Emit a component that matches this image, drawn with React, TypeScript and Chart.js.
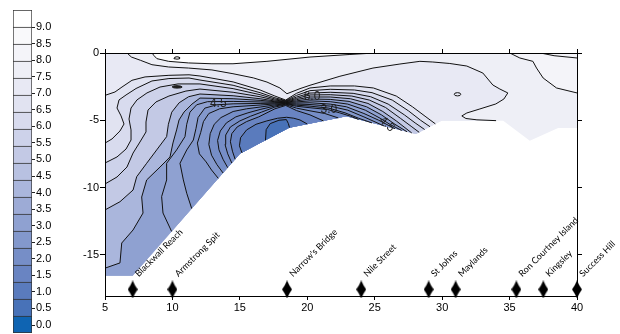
import React, { useEffect, useRef } from 'react';
import { Chart, registerables } from 'chart.js';

Chart.register(...registerables);

type Pt = [number, number];

// ---------------- data ----------------
const STATION_NAMES = ['Blackwall Reach', 'Armstrong Spit', "Narrow's Bridge", 'Nile Street', 'St Johns', 'Maylands', 'Ron Courtney Island', 'Kingsley', 'Success Hill'];
const STATION_KM = [7.05, 10.0, 18.5, 24.0, 29.0, 31.0, 35.5, 37.5, 40.0];
const STATION_DEPTH = -17.58;
const STATION_LABEL_DEPTH = -16.68;

const X_MIN = 5;
const X_MAX = 40;
const Y_MIN = -18.07;
const Y_MAX = 0;
const X_TICK_STEP = 5;
const Y_TICK_STEP = 5;

const COLORBAR_TICKS = [0, 0.5, 1, 1.5, 2, 2.5, 3, 3.5, 4, 4.5, 5, 5.5, 6, 6.5, 7, 7.5, 8, 8.5, 9];
const BAND_STEP = 0.5;
const BAND_TOP = 9.5;
const BAND_COLORS = [
  '#0f64b2', '#4872b8', '#5a7bbd', '#6984c2', '#768ec7', '#8398cc', '#8fa1d1', '#9dabd6', '#aab6dc', '#b8c1e1',
  '#c3c9e5', '#cdd2ea', '#d8dbee', '#e1e3f1', '#e8e9f4', '#eeeff6', '#f4f4f9', '#f9f9fb', '#ffffff',
];
// upper bound of the colour band that fills the whole section first
const BASE_BAND = 8.0;

// section outline (distance km, depth m)
const BOUNDARY: Pt[] = [
  [5, 0], [5, -16.56], [7.05, -16.56], [15.0, -7.5], [16.5, -6.7], [18.65, -5.55], [22.9, -4.71],
  [28.05, -6.03], [29.96, -5.03], [34.53, -5.03], [36.5, -6.52], [38.6, -5.58], [40, -5.58], [40, 0],
];

// contour lines
const C95_RIGHT: Pt[] = [[37.3, 0], [38.3, -0.2], [40, -0.37]];
const C90_TOP: Pt[] = [[8.5, 0], [8.61, -0.17], [8.85, -0.42], [9.72, -0.62], [11.2, -0.74], [12.93, -0.8], [14.49, -0.8], [17.01, -0.62], [20.2, -0.3], [23.16, -0.11], [25.0, 0]];
const C90_RIGHT: Pt[] = [[35.02, 0], [35.76, -0.37], [36.73, -0.62], [37.0, -1.12], [37.49, -1.86], [38.48, -2.6], [40, -2.97]];
const C85: Pt[] = [[6.63, 0], [6.96, -0.3], [7.62, -0.54], [8.48, -0.87], [9.72, -1.04], [11.2, -1.12], [12.93, -1.26], [14.49, -1.54], [16.0, -1.85], [17.01, -2.16], [17.97, -2.6], [18.49, -3.03], [19.46, -2.65], [20.2, -2.4], [22.42, -1.73], [24.87, -1.12], [26.87, -0.82], [28.35, -0.62], [29.31, -0.67], [30.57, -0.78], [31.83, -0.97], [33.02, -1.49], [33.76, -2.38], [34.28, -2.68], [34.87, -2.97], [34.58, -3.42], [33.98, -3.79], [32.8, -4.16], [31.83, -4.46], [31.46, -4.68], [31.76, -4.87], [32.58, -4.97], [34.0, -5.03]];
const C80: Pt[] = [[5, -3.15], [5.74, -2.9], [6.26, -2.53], [7.0, -2.03], [7.97, -1.78], [9.74, -1.66], [11.23, -1.62], [12.04, -1.71], [14.5, -2.15], [16.5, -2.75], [17.6, -3.2], [18.4, -3.5], [19.2, -3.0], [20.2, -2.6], [21.7, -2.45], [23.5, -2.45], [24.9, -2.6], [26.6, -3.2], [27.8, -4.0], [28.8, -4.75], [29.5, -5.27]];
const C75: Pt[] = [[5, -6.7], [5.52, -6.39], [6.11, -5.8], [6.41, -5.28], [6.19, -4.68], [5.89, -4.09], [6.04, -3.49], [6.56, -3.12], [7.3, -2.64], [8.48, -2.08], [9.74, -1.9], [11.23, -1.86], [12.04, -2.01], [14.5, -2.4], [16.5, -2.95], [17.6, -3.33], [18.4, -3.54], [19.2, -3.15], [20.2, -2.8], [21.7, -2.7], [23.5, -2.75], [24.8, -2.95], [26.3, -3.5], [27.5, -4.3], [28.4, -5.0], [29.1, -5.48]];
const C70: Pt[] = [[5, -8.18], [5.89, -7.73], [6.56, -7.14], [6.93, -6.47], [6.93, -5.72], [6.78, -4.91], [6.93, -4.09], [7.37, -3.49], [8.11, -2.97], [9.08, -2.53], [10.41, -2.3], [12.04, -2.3], [14.5, -2.65], [16.5, -3.1], [17.6, -3.42], [18.4, -3.57], [19.2, -3.28], [20.2, -2.98], [21.7, -2.92], [23.4, -3.0], [24.7, -3.25], [26.0, -3.8], [27.2, -4.6], [28.0, -5.2], [28.7, -5.69]];
const C65: Pt[] = [[5, -9.74], [5.89, -9.22], [6.63, -8.48], [7.08, -7.44], [7.59, -6.62], [8.04, -5.87], [8.04, -5.13], [8.19, -4.24], [8.78, -3.64], [9.74, -3.2], [11.0, -2.83], [12.04, -2.68], [14.5, -2.92], [16.5, -3.25], [17.6, -3.5], [18.4, -3.6], [19.2, -3.38], [20.2, -3.12], [21.7, -3.1], [23.3, -3.2], [24.6, -3.5], [25.8, -4.05], [26.9, -4.85], [27.7, -5.45], [28.3, -5.9]];
const C60: Pt[] = [[5, -11.67], [6.11, -11.06], [7.08, -10.19], [7.35, -9.2], [8.09, -8.2], [8.83, -7.21], [9.57, -6.22], [9.7, -5.3], [9.95, -4.4], [10.5, -3.7], [11.2, -3.25], [12.04, -3.05], [14.5, -3.18], [16.5, -3.4], [17.6, -3.57], [18.4, -3.63], [19.2, -3.47], [20.2, -3.27], [21.7, -3.27], [23.2, -3.4], [24.5, -3.75], [25.6, -4.35], [26.6, -5.05], [27.75, -5.95]];
const C55: Pt[] = [[5, -16.0], [6.11, -15.61], [6.24, -14.13], [7.08, -13.16], [7.82, -11.9], [7.72, -10.71], [8.09, -9.44], [9.08, -8.48], [9.82, -7.73], [10.04, -6.69], [10.31, -5.72], [10.49, -4.98], [10.86, -4.39], [11.45, -3.8], [12.04, -3.35], [14.5, -3.4], [16.5, -3.52], [17.6, -3.62], [18.4, -3.66], [19.2, -3.56], [20.2, -3.42], [21.7, -3.45], [23.1, -3.6], [24.4, -4.0], [25.5, -4.6], [26.5, -5.3], [27.4, -5.86]];
const C50: Pt[] = [[9.94, -13.27], [9.3, -11.9], [9.2, -10.68], [9.57, -9.44], [9.57, -8.2], [10.31, -7.21], [10.93, -6.22], [11.06, -5.3], [11.3, -4.4], [11.8, -3.85], [12.6, -3.62], [14.5, -3.6], [16.5, -3.64], [17.6, -3.67], [18.4, -3.69], [19.2, -3.64], [20.2, -3.56], [21.7, -3.62], [23.0, -3.8], [24.3, -4.25], [25.4, -4.85], [26.2, -5.35], [27.0, -5.76]];
const C45: Pt[] = [[11.43, -11.57], [11.06, -10.43], [10.81, -9.44], [10.56, -8.2], [11.06, -7.21], [11.55, -6.47], [11.75, -5.6], [11.9, -4.8], [12.4, -4.1], [13.3, -3.85], [14.5, -3.78], [16.5, -3.75], [17.6, -3.73], [18.4, -3.72], [19.2, -3.72], [20.2, -3.7], [21.7, -3.8], [22.9, -4.0], [24.2, -4.5], [25.3, -5.0], [26.5, -5.63]];
const C40: Pt[] = [[13.4, -9.32], [12.9, -8.7], [12.5, -8.1], [12.0, -7.5], [11.85, -6.7], [12.1, -5.9], [12.3, -5.1], [12.7, -4.5], [13.5, -4.15], [14.5, -4.0], [16.5, -3.87], [17.6, -3.79], [18.4, -3.75], [19.2, -3.8], [20.2, -3.83], [21.7, -3.95], [23.0, -4.25], [24.2, -4.75], [25.7, -5.43]];
const C35: Pt[] = [[13.75, -8.92], [13.3, -8.3], [12.9, -7.6], [12.7, -6.8], [12.8, -6.0], [13.1, -5.3], [13.6, -4.8], [14.5, -4.35], [15.5, -4.15], [16.5, -4.02], [17.6, -3.86], [18.4, -3.78], [19.2, -3.88], [20.2, -3.95], [21.6, -4.1], [22.8, -4.45], [23.8, -4.85], [24.8, -5.2]];
const C30: Pt[] = [[14.1, -8.53], [13.75, -7.9], [13.45, -7.2], [13.35, -6.5], [13.55, -5.8], [14.0, -5.2], [14.7, -4.75], [15.6, -4.45], [16.5, -4.2], [17.6, -3.94], [18.4, -3.81], [19.2, -3.96], [20.2, -4.07], [21.5, -4.2], [22.4, -4.45], [23.2, -4.7], [23.8, -4.94]];
const C25: Pt[] = [[14.4, -8.18], [14.1, -7.5], [13.9, -6.8], [13.95, -6.1], [14.3, -5.5], [15.0, -5.05], [15.8, -4.7], [16.6, -4.4], [17.6, -4.02], [18.4, -3.85], [19.2, -4.1], [20.2, -4.3], [21.3, -4.5], [22.3, -4.83]];
const C20: Pt[] = [[14.65, -7.9], [14.45, -7.3], [14.3, -6.6], [14.4, -6.0], [14.8, -5.5], [15.5, -5.1], [16.4, -4.75], [17.6, -4.15], [18.4, -3.9], [19.2, -4.28], [20.2, -4.6], [21.2, -5.05]];
const C15: Pt[] = [[15.15, -7.42], [14.97, -6.9], [15.05, -6.3], [15.5, -5.72], [16.2, -5.3], [17.0, -5.05], [17.8, -4.85], [18.47, -4.78], [19.0, -4.85], [19.46, -4.98], [20.0, -5.28]];
const C10: Pt[] = [[16.9, -6.49], [16.95, -5.7], [17.25, -5.25], [17.9, -5.0], [18.45, -4.95], [18.6, -5.25], [18.68, -5.54]];

// small closed contours
const LOOP_TOP: Pt[] = [[10.12, -0.37], [10.18, -0.31], [10.34, -0.28], [10.5, -0.31], [10.56, -0.37], [10.5, -0.43], [10.34, -0.46], [10.18, -0.43], [10.12, -0.37]];
const LOOP_DASH: Pt[] = [[9.98, -2.52], [10.1, -2.45], [10.34, -2.43], [10.6, -2.46], [10.72, -2.53], [10.6, -2.59], [10.34, -2.61], [10.1, -2.59], [9.98, -2.52]];
const LOOP_EAST: Pt[] = [[30.9, -3.07], [30.96, -2.98], [31.14, -2.95], [31.32, -2.98], [31.38, -3.07], [31.32, -3.16], [31.14, -3.19], [30.96, -3.16], [30.9, -3.07]];

// listed from the outside in; each fills the side named in CONTOUR_SIDES
const CONTOUR_LINES: Pt[][] = [C95_RIGHT, C90_TOP, C90_RIGHT, C85, C80, C75, C70, C65, C60, C55, C50, C45, C40, C35, C30, C25, C20, C15, C10];
const CONTOUR_SIDES = ['high', 'high', 'high', 'low', 'low', 'low', 'low', 'low', 'low', 'low', 'low', 'low', 'low', 'low', 'low', 'low', 'low', 'low', 'low'];
// upper bound of the 0.5-wide colour band shown on the filled side of each line
const CONTOUR_FILL_BAND = [9.0, 9.5, 8.5, 7.5, 7.0, 6.5, 6.0, 5.5, 4.5, 3.5, 3.5, 3.0, 3.0, 2.5, 2.5, 2.5, 2.0, 1.5, 1.0];

const CONTOUR_LABEL_TEXT = ['4.5', '6.0', '3.0', '4.5'];
const CONTOUR_LABEL_X = [13.4, 20.35, 21.6, 25.9];
const CONTOUR_LABEL_Y = [-3.8, -3.27, -4.18, -5.3];
const CONTOUR_LABEL_ANGLE = [0, 0, 0, 42];

// ---------------- geometry helpers ----------------
const N = BOUNDARY.length;
const CUM: number[] = [0];
for (let i = 0; i < N; i++) {
  const a = BOUNDARY[i];
  const b = BOUNDARY[(i + 1) % N];
  CUM.push(CUM[i] + Math.hypot(b[0] - a[0], b[1] - a[1]));
}
const PERIM = CUM[N];

function project(p: Pt) {
  let best = { d: Infinity, t: 0, pt: p as Pt };
  for (let i = 0; i < N; i++) {
    const a = BOUNDARY[i];
    const b = BOUNDARY[(i + 1) % N];
    const dx = b[0] - a[0];
    const dy = b[1] - a[1];
    const l2 = dx * dx + dy * dy;
    let t = l2 > 0 ? ((p[0] - a[0]) * dx + (p[1] - a[1]) * dy) / l2 : 0;
    t = Math.max(0, Math.min(1, t));
    const q: Pt = [a[0] + t * dx, a[1] + t * dy];
    const d = Math.hypot(p[0] - q[0], p[1] - q[1]);
    if (d < best.d) best = { d, t: CUM[i] + t * Math.sqrt(l2), pt: q };
  }
  return best;
}

const mod = (v: number) => ((v % PERIM) + PERIM) % PERIM;

function buildRegion(pts: Pt[], side: string): Pt[] {
  const s = project(pts[0]);
  const e = project(pts[pts.length - 1]);
  const out: Pt[] = [s.pt, ...pts.slice(1, -1), e.pt];
  const verts: { k: number; p: Pt }[] = [];
  if (side === 'low') {
    const span = mod(e.t - s.t);
    for (let i = 0; i < N; i++) {
      const k = mod(e.t - CUM[i]);
      if (k > 1e-9 && k < span - 1e-9) verts.push({ k, p: BOUNDARY[i] });
    }
  } else {
    const span = mod(s.t - e.t);
    for (let i = 0; i < N; i++) {
      const k = mod(CUM[i] - e.t);
      if (k > 1e-9 && k < span - 1e-9) verts.push({ k, p: BOUNDARY[i] });
    }
  }
  verts.sort((a, b) => a.k - b.k);
  verts.forEach((v) => out.push(v.p));
  out.push(s.pt);
  return out;
}

const toXY = (pts: Pt[]) => pts.map(([x, y]) => ({ x, y }));
const bandColor = (top: number) => BAND_COLORS[Math.max(0, Math.min(BAND_COLORS.length - 1, Math.round(top / BAND_STEP) - 1))];

const TICK_FONT = { family: 'Liberation Sans', size: 11 };

export default function App() {
  const mainRef = useRef<HTMLCanvasElement>(null);
  const barRef = useRef<HTMLCanvasElement>(null);

  useEffect(() => {
    document.body.style.margin = '0';
    if (!mainRef.current || !barRef.current) return;

    // diamond marker
    const mk = document.createElement('canvas');
    mk.width = 10;
    mk.height = 18;
    const g = mk.getContext('2d')!;
    g.fillStyle = '#000';
    g.beginPath();
    g.moveTo(5, 0);
    g.quadraticCurveTo(7, 5, 10, 9);
    g.quadraticCurveTo(7, 13, 5, 18);
    g.quadraticCurveTo(3, 13, 0, 9);
    g.quadraticCurveTo(3, 5, 5, 0);
    g.closePath();
    g.fill();

    const datasets: any[] = [];
    const fillBase = { fill: 'shape', borderColor: 'rgba(0,0,0,0)', borderWidth: 0, pointRadius: 0, clip: 0 };
    const strokeBase = { fill: false, borderColor: '#111', borderWidth: 1, pointRadius: 0 };

    datasets.push({ ...fillBase, data: toXY([...BOUNDARY, BOUNDARY[0]]), backgroundColor: bandColor(BASE_BAND), order: 1000 });

    CONTOUR_LINES.forEach((pts, i) => {
      const side = CONTOUR_SIDES[i];
      datasets.push({
        ...fillBase,
        data: toXY(buildRegion(pts, side)),
        backgroundColor: bandColor(CONTOUR_FILL_BAND[i]),
        order: side === 'high' ? 900 - i : 500 - i,
      });
      datasets.push({ ...strokeBase, data: toXY(pts), order: 10 });
    });

    datasets.push({ ...fillBase, data: toXY(LOOP_DASH), backgroundColor: '#222', order: 60 });
    [LOOP_TOP, LOOP_DASH, LOOP_EAST].forEach((pts) => datasets.push({ ...strokeBase, data: toXY(pts), order: 10 }));

    datasets.push({
      data: STATION_KM.map((k) => ({ x: k, y: STATION_DEPTH })),
      showLine: false,
      pointStyle: mk,
      pointRadius: 5,
      clip: false,
      order: 1,
    });

    const annotate = {
      id: 'annotate',
      afterDatasetsDraw(chart: any) {
        const { ctx } = chart;
        const xs = chart.scales.x;
        const ys = chart.scales.y;
        ctx.save();
        ctx.fillStyle = '#000';
        ctx.font = '9px Lato';
        ctx.textAlign = 'left';
        ctx.textBaseline = 'alphabetic';
        STATION_NAMES.forEach((name, i) => {
          const px = xs.getPixelForValue(STATION_KM[i]) + 6;
          const py = ys.getPixelForValue(STATION_LABEL_DEPTH);
          ctx.save();
          ctx.translate(px, py);
          ctx.rotate(-Math.PI / 4);
          ctx.fillText(name, 0, 0);
          ctx.restore();
        });
        ctx.font = '12px "Liberation Sans"';
        ctx.textAlign = 'center';
        ctx.textBaseline = 'middle';
        ctx.fillStyle = '#222';
        CONTOUR_LABEL_TEXT.forEach((t, i) => {
          const px = xs.getPixelForValue(CONTOUR_LABEL_X[i]);
          const py = ys.getPixelForValue(CONTOUR_LABEL_Y[i]);
          ctx.save();
          ctx.translate(px, py);
          ctx.rotate((CONTOUR_LABEL_ANGLE[i] * Math.PI) / 180);
          ctx.fillText(t, 0, 0);
          ctx.restore();
        });
        ctx.restore();
      },
    };

    const axisCommon = (pos: string, showLabels: boolean, size: number, isX: boolean) => ({
      type: 'linear',
      position: pos,
      min: isX ? X_MIN : Y_MIN,
      max: isX ? X_MAX : Y_MAX,
      ticks: {
        stepSize: isX ? X_TICK_STEP : Y_TICK_STEP,
        includeBounds: false,
        font: TICK_FONT,
        color: '#000',
        padding: 1,
        maxRotation: 0,
        autoSkip: false,
        callback: (v: any) => (showLabels ? String(v) : ''),
      },
      grid: { drawOnChartArea: false, drawTicks: true, tickLength: isX ? 4 : 5, color: '#000' },
      border: { display: true, color: '#000', width: 1, z: 1 },
      afterFit: (s: any) => {
        if (isX) s.height = size;
        else s.width = size;
      },
    });

    const main = new Chart(mainRef.current, {
      type: 'line',
      data: { datasets },
      options: {
        responsive: false,
        animation: false,
        devicePixelRatio: 1,
        events: [],
        layout: { padding: 0 },
        plugins: { legend: { display: false }, tooltip: { enabled: false } },
        elements: { line: { tension: 0 } },
        scales: {
          x: axisCommon('bottom', true, 38, true),
          x2: axisCommon('top', false, 53, true),
          y: axisCommon('left', true, 105, false),
          y2: axisCommon('right', false, 43, false),
        } as any,
      },
      plugins: [annotate],
    } as any);

    // colour bar
    const barSets = BAND_COLORS.map((c, i) => ({
      data: [BAND_STEP],
      backgroundColor: c,
      borderColor: '#333',
      borderWidth: { top: 1, left: 1, right: 1, bottom: i === 0 ? 1 : 0 },
      borderSkipped: false,
      barPercentage: 1,
      categoryPercentage: 1,
      stack: 'bar',
    }));

    const bar = new Chart(barRef.current, {
      type: 'bar',
      data: { labels: [''], datasets: barSets },
      options: {
        responsive: false,
        animation: false,
        devicePixelRatio: 1,
        events: [],
        layout: { padding: { left: 13, top: 10, bottom: 1, right: 0 } },
        plugins: { legend: { display: false }, tooltip: { enabled: false } },
        scales: {
          x: { display: false, stacked: true },
          y: { display: false, stacked: true, min: 0, max: BAND_TOP },
          yl: {
            position: 'right',
            min: -0.2416,
            max: 9.514,
            afterBuildTicks: (s: any) => {
              s.ticks = COLORBAR_TICKS.map((v) => ({ value: v }));
            },
            ticks: { font: TICK_FONT, color: '#000', padding: 1, callback: (v: any) => Number(v).toFixed(1) },
            grid: { drawOnChartArea: false, drawTicks: true, tickLength: 3, color: '#222' },
            border: { display: false },
            afterFit: (s: any) => {
              s.width = 48;
              s.paddingTop = 0;
              s.paddingBottom = 0;
            },
          },
        } as any,
      },
    } as any);

    return () => {
      main.destroy();
      bar.destroy();
    };
  }, []);

  return (
    <div style={{ position: 'relative', width: 620, height: 334, background: '#fff', overflow: 'hidden' }}>
      <canvas ref={mainRef} width={620} height={334} style={{ position: 'absolute', left: 0, top: 0 }} />
      <canvas ref={barRef} width={80} height={334} style={{ position: 'absolute', left: 0, top: 0 }} />
    </div>
  );
}
